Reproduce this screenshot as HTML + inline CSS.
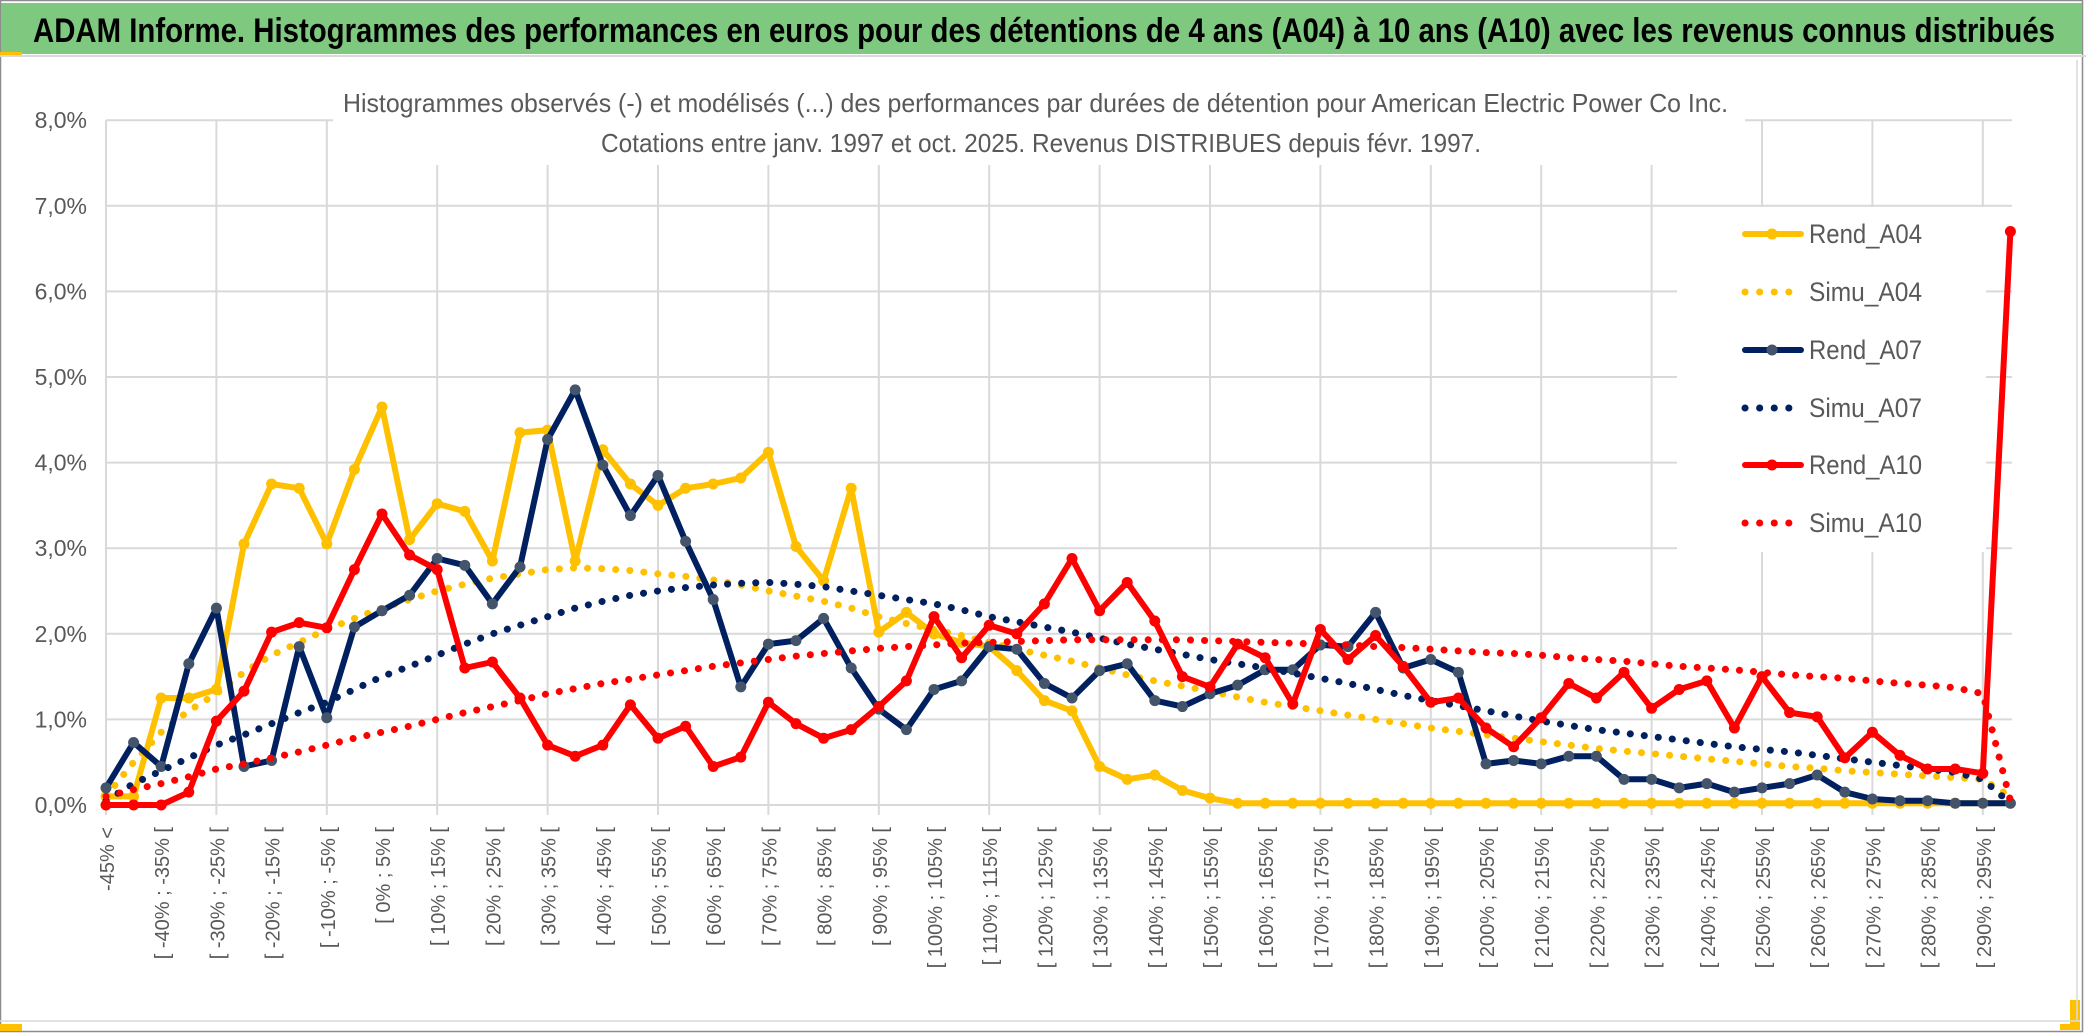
<!DOCTYPE html>
<html><head><meta charset="utf-8">
<style>
html,body{margin:0;padding:0;background:#fff;}
svg{display:block;}
</style></head>
<body>
<svg id="chart" width="2086" height="1033" viewBox="0 0 2086 1033" xmlns="http://www.w3.org/2000/svg">
  <rect x="0" y="0" width="2086" height="1033" fill="#ffffff"/>
  <rect x="0.5" y="0.5" width="2082" height="1031" fill="none" stroke="#8c8c8c" stroke-width="1.5"/>
  <rect x="1" y="3" width="2081" height="51" fill="#7ec87f"/>
  <rect x="0" y="52" width="22" height="4" fill="#ffc000"/>
  <line x1="0" y1="56" x2="2086" y2="56" stroke="#d9d9d9" stroke-width="2"/>
  <text x="33" y="42" font-family="'Liberation Sans Narrow','Liberation Sans',sans-serif" font-weight="bold" font-size="34" fill="#000" textLength="2022" lengthAdjust="spacingAndGlyphs">ADAM Informe. Histogrammes des performances en euros pour des détentions de 4 ans (A04) à 10 ans (A10) avec les revenus connus distribués</text>
  <rect x="0" y="1024" width="22" height="7" fill="#ffc000"/>
  <rect x="2070" y="1000" width="10" height="30" fill="#ffc000"/>
  <rect x="2060" y="1024" width="20" height="6" fill="#ffc000"/>
  <line x1="0" y1="1021" x2="2080" y2="1021" stroke="#d9d9d9" stroke-width="1.5"/>
  <line x1="2077" y1="60" x2="2077" y2="1021" stroke="#d9d9d9" stroke-width="1.5"/>
  <g id="grid"></g>
  <g id="ylabels"></g>
  <g id="xlabels"></g>
  <rect x="333" y="62" width="1412" height="103" fill="#ffffff"/>
  <text x="343" y="112" font-family="'Liberation Sans Narrow','Liberation Sans',sans-serif" font-size="26" fill="#595959" textLength="1385" lengthAdjust="spacingAndGlyphs">Histogrammes observés (-) et modélisés (...) des performances par durées de détention pour American Electric Power Co Inc.</text>
  <text x="601" y="152" font-family="'Liberation Sans Narrow','Liberation Sans',sans-serif" font-size="26" fill="#595959" textLength="880" lengthAdjust="spacingAndGlyphs">Cotations entre janv. 1997 et oct. 2025. Revenus DISTRIBUES depuis févr. 1997.</text>
  <rect x="1677" y="207" width="309" height="345" fill="#ffffff"/>
  <g id="series"></g>
  <g id="legend"></g>
</svg>
<script>
const rendA04 = [0.1,0.1,1.25,1.25,1.35,3.05,3.75,3.7,3.05,3.92,4.65,3.1,3.52,3.43,2.85,4.35,4.38,2.85,4.15,3.75,3.5,3.7,3.75,3.82,4.12,3.02,2.62,3.7,2.02,2.25,2.0,1.9,1.85,1.57,1.22,1.1,0.45,0.3,0.35,0.17,0.08,0.02,0.02,0.02,0.02,0.02,0.02,0.02,0.02,0.02,0.02,0.02,0.02,0.02,0.02,0.02,0.02,0.02,0.02,0.02,0.02,0.02,0.02,0.02,0.02,0.02,0.02,0.02,0.02,0.02];
const simuA04 = [0.1,0.5,0.85,1.1,1.3,1.55,1.75,1.9,2.05,2.18,2.3,2.4,2.5,2.58,2.65,2.7,2.75,2.77,2.76,2.74,2.7,2.67,2.63,2.57,2.5,2.44,2.38,2.3,2.2,2.12,2.05,1.98,1.9,1.82,1.75,1.68,1.6,1.52,1.45,1.39,1.33,1.26,1.2,1.15,1.1,1.05,1.0,0.95,0.9,0.86,0.82,0.78,0.74,0.7,0.66,0.63,0.6,0.57,0.54,0.51,0.48,0.45,0.43,0.4,0.38,0.36,0.34,0.32,0.3,0.1];
const rendA07 = [0.2,0.73,0.45,1.65,2.3,0.45,0.52,1.85,1.02,2.08,2.27,2.45,2.88,2.8,2.35,2.78,4.27,4.85,3.97,3.38,3.85,3.08,2.4,1.38,1.88,1.92,2.18,1.6,1.12,0.88,1.35,1.45,1.85,1.82,1.42,1.25,1.57,1.65,1.22,1.15,1.3,1.4,1.58,1.58,1.87,1.85,2.25,1.6,1.7,1.55,0.48,0.52,0.48,0.57,0.57,0.3,0.3,0.2,0.25,0.15,0.2,0.25,0.35,0.15,0.07,0.05,0.05,0.02,0.02,0.02];
const simuA07 = [0.05,0.25,0.4,0.55,0.7,0.82,0.95,1.08,1.2,1.35,1.5,1.62,1.75,1.88,2.0,2.1,2.2,2.3,2.38,2.45,2.5,2.54,2.57,2.59,2.6,2.58,2.55,2.5,2.45,2.4,2.35,2.28,2.2,2.14,2.08,2.02,1.95,1.88,1.82,1.76,1.7,1.65,1.6,1.54,1.48,1.42,1.35,1.28,1.22,1.16,1.1,1.04,0.98,0.93,0.88,0.84,0.8,0.76,0.72,0.68,0.65,0.62,0.58,0.54,0.5,0.46,0.42,0.38,0.3,0.02];
const rendA10 = [0.0,0.0,0.0,0.15,0.98,1.33,2.02,2.13,2.07,2.75,3.4,2.92,2.75,1.6,1.67,1.25,0.7,0.57,0.7,1.17,0.78,0.92,0.45,0.56,1.2,0.95,0.78,0.88,1.15,1.45,2.2,1.72,2.1,2.0,2.35,2.88,2.27,2.6,2.15,1.5,1.38,1.88,1.72,1.18,2.05,1.7,1.98,1.62,1.2,1.25,0.9,0.68,1.02,1.42,1.25,1.55,1.13,1.35,1.45,0.9,1.5,1.08,1.03,0.55,0.85,0.58,0.42,0.42,0.37,6.7];
const simuA10 = [0.1,0.18,0.25,0.33,0.42,0.48,0.55,0.62,0.7,0.78,0.85,0.92,1.0,1.08,1.15,1.22,1.3,1.36,1.42,1.47,1.52,1.57,1.62,1.66,1.7,1.74,1.77,1.8,1.83,1.85,1.87,1.89,1.9,1.91,1.92,1.93,1.93,1.93,1.93,1.93,1.92,1.91,1.9,1.89,1.88,1.87,1.85,1.84,1.82,1.8,1.78,1.77,1.75,1.72,1.7,1.68,1.65,1.62,1.6,1.58,1.55,1.52,1.5,1.48,1.45,1.42,1.4,1.37,1.3,0.05];
const yTicks = [0,1,2,3,4,5,6,7,8];
const yTickLabels = ["0,0%","1,0%","2,0%","3,0%","4,0%","5,0%","6,0%","7,0%","8,0%"];
const categories = ["-45% <"];
for (let i = 1; i < 70; i++) {
  const lo = -45 + 5 * (i - 1);
  categories.push("[ " + lo + "% ; " + (lo + 5) + "% [");
}

const NS = "http://www.w3.org/2000/svg";
const X0 = 106, DX = 27.6, Y0 = 805, PY = 85.6, XR = 2012;
function xPos(i) { return X0 + i * DX; }
function yPos(v) { return Y0 - v * PY; }
function mk(tag, attrs, parent) {
  const e = document.createElementNS(NS, tag);
  for (const k in attrs) e.setAttribute(k, attrs[k]);
  parent.appendChild(e);
  return e;
}

const grid = document.getElementById('grid');
yTicks.forEach(function (t) {
  const l = mk('line', {x1: X0, x2: XR, y1: yPos(t), y2: yPos(t), stroke: '#d9d9d9', 'stroke-width': 2}, grid);
  
  
});
for (let i = 0; i < categories.length; i += 4) {
  const l = mk('line', {x1: xPos(i), x2: xPos(i), y1: yPos(8), y2: Y0 + 10, stroke: '#d9d9d9', 'stroke-width': 2}, grid);
  
  
}

const yl = document.getElementById('ylabels');
yTicks.forEach(function (t, k) {
  const tx = mk('text', {x: 87, y: yPos(t) + 8, 'text-anchor': 'end', 'font-family': "'Liberation Sans Narrow','Liberation Sans',sans-serif", 'font-size': 23, fill: '#595959'}, yl);
  tx.textContent = yTickLabels[k];
  
  
});

const xl = document.getElementById('xlabels');
for (let i = 0; i < categories.length; i += 2) {
  const x = xPos(i) + 2;
  const tx = mk('text', {x: 0, y: 0, transform: 'translate(' + x + ',827) rotate(-90)', 'text-anchor': 'end', 'dominant-baseline': 'central', 'font-family': "'Liberation Sans',sans-serif", 'font-size': 20, fill: '#595959'}, xl);
  tx.textContent = categories[i];
  
  
}

const seriesLayer = document.getElementById('series');
function drawSeries(vals, color, dotted, markerColor, name) {
  const pts = vals.map(function (v, i) { return xPos(i).toFixed(1) + ',' + yPos(v).toFixed(1); }).join(' ');
  const g = mk('g', {}, seriesLayer);
  
  
  const attrs = {points: pts, fill: 'none', stroke: color, 'stroke-linejoin': 'round', 'stroke-linecap': 'round'};
  if (dotted) { attrs['stroke-width'] = 7; attrs['stroke-dasharray'] = '0.1 14'; }
  else { attrs['stroke-width'] = 6; }
  const pl = mk('polyline', attrs, g);
  
  
  if (!dotted) {
    vals.forEach(function (v, i) {
      const c = mk('circle', {cx: xPos(i), cy: yPos(v), r: 5.5, fill: markerColor}, g);
      
      
    });
  }
}
drawSeries(rendA04, '#ffc000', false, '#ffc000', 'rend-a04');
drawSeries(simuA04, '#ffc000', true, null, 'simu-a04');
drawSeries(rendA07, '#002060', false, '#44546a', 'rend-a07');
drawSeries(simuA07, '#002060', true, null, 'simu-a07');
drawSeries(rendA10, '#ff0000', false, '#ff0000', 'rend-a10');
drawSeries(simuA10, '#ff0000', true, null, 'simu-a10');

const legendItems = [
  ['Rend_A04', '#ffc000', false, '#ffc000'],
  ['Simu_A04', '#ffc000', true, null],
  ['Rend_A07', '#002060', false, '#44546a'],
  ['Simu_A07', '#002060', true, null],
  ['Rend_A10', '#ff0000', false, '#ff0000'],
  ['Simu_A10', '#ff0000', true, null]
];
const legendY = [234, 292, 350, 408, 465, 523];
const lg = document.getElementById('legend');
legendItems.forEach(function (it, k) {
  const y = legendY[k];
  const g = mk('g', {}, lg);
  
  
  if (it[2]) {
    mk('line', {x1: 1745, x2: 1800, y1: y, y2: y, stroke: it[1], 'stroke-width': 7, 'stroke-linecap': 'round', 'stroke-dasharray': '0.1 14.5'}, g);
  } else {
    mk('line', {x1: 1745, x2: 1801, y1: y, y2: y, stroke: it[1], 'stroke-width': 6, 'stroke-linecap': 'round'}, g);
    mk('circle', {cx: 1772, cy: y, r: 5.5, fill: it[3]}, g);
  }
  const tx = mk('text', {x: 1809, y: y + 9, 'font-family': "'Liberation Sans Narrow','Liberation Sans',sans-serif", 'font-size': 27, fill: '#595959', textLength: 113, lengthAdjust: 'spacingAndGlyphs'}, g);
  tx.textContent = it[0];
  
  
});
</script>
</body></html>
